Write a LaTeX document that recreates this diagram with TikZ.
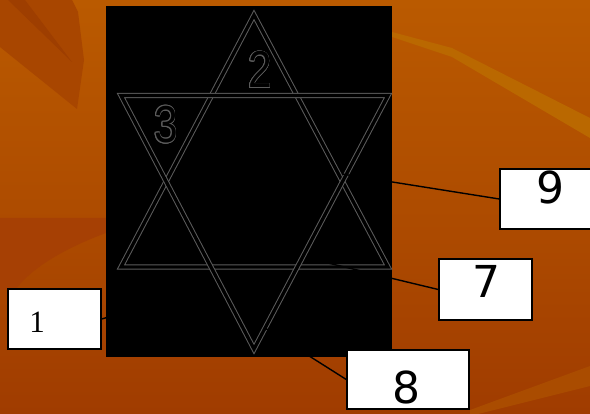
\documentclass[tikz,border=0pt]{standalone}
\usepackage{fontspec}
\usepackage{contour}
\setmainfont{Liberation Serif}
\newfontfamily\digsans{DejaVu Sans}
\newfontfamily\starsans{Liberation Sans}
\definecolor{bgtop}{RGB}{186,90,0}
\definecolor{bgmid}{RGB}{174,76,0}
\definecolor{bgbot}{RGB}{160,60,0}
\definecolor{wedge}{RGB}{168,70,0}
\definecolor{wedgedark}{RGB}{158,62,0}
\definecolor{redpatch}{RGB}{166,64,4}
\definecolor{streak}{RGB}{186,104,0}
\definecolor{streaklow}{RGB}{170,76,0}
\definecolor{starline}{RGB}{92,92,92}
\contourlength{0.7pt}
\tikzset{
  starpath/.style={draw=starline, line width=1pt, double=black, double distance=3.3pt, line join=miter},
  labelbox/.style={draw=black, line width=1.4pt, fill=white, inner sep=0pt},
  connector/.style={draw=black, line width=1.4pt},
  boxdigit/.style={inner sep=0pt, font=\digsans\fontsize{44}{44}\selectfont},
  stardigit/.style={inner sep=0pt, font=\starsans\fontsize{52}{52}\selectfont, xscale=0.82}
}
\begin{document}
\begin{tikzpicture}[x=1pt, y=-1pt]
\useasboundingbox (0,0) rectangle (590,414);
\clip (0,0) rectangle (590,414);
% background
\shade[top color=bgtop, bottom color=bgbot, middle color=bgmid] (0,0) rectangle (590,414);
\fill[wedge] (0,0) -- (72,0) -- (78,12) -- (84,60) -- (77,109) -- (0,47) -- cycle;
\fill[wedgedark] (8,0) -- (25,0) -- (72,62) -- cycle;
\fill[redpatch] (0,218) -- (106,218) -- (106,233) .. controls (60,250) and (30,270) .. (15,290) -- (0,290) -- cycle;
\fill[streak] (392,32) -- (452,48) -- (590,118) -- (590,138) -- (452,57) -- (392,37) -- cycle;
\fill[streaklow] (470,410) -- (590,366) -- (590,386) -- (470,416) -- cycle;
% black panel
\fill[black] (106,6) rectangle (392,357);
% star of David
\draw[starpath] (254,15) -- (388,267) -- (121,267) -- cycle;
\draw[starpath] (121,95.5) -- (388,95.5) -- (254,349) -- cycle;
\node[stardigit] (two) at (260,70) {\contour{starline}{2}};
\node[stardigit] (three) at (166,125) {\contour{starline}{3}};
% boxes
\node[labelbox, minimum width=100pt, minimum height=60pt] (b9) at (550,199) {};
\node[labelbox, minimum width=93pt, minimum height=61pt] (b7) at (485.5,289.5) {};
\node[labelbox, minimum width=93pt, minimum height=60pt] (b1) at (54.5,319) {};
% connector anchors inside panel
\coordinate (c9) at (342,174);
\coordinate (c7) at (328,263);
\coordinate (c8) at (265,328);
\coordinate (c1) at (112,316);
\draw[connector] (c9) -- (b9.west);
\draw[connector] (c7) -- (b7.west);
\draw[connector] (c1) -- (b1.east);
\node[labelbox, minimum width=122pt, minimum height=59pt] (b8) at (408,379.5) {};
\draw[connector] (c8) -- (b8.west);
% texts
\node[boxdigit] (t9) at (550,187) {9};
\node[boxdigit] (t7) at (486,281) {7};
\node[boxdigit] (t8) at (406,387) {8};
\node[inner sep=0pt, font=\fontsize{31}{31}\selectfont] (t1) at (37,322) {1};
\end{tikzpicture}
\end{document}
